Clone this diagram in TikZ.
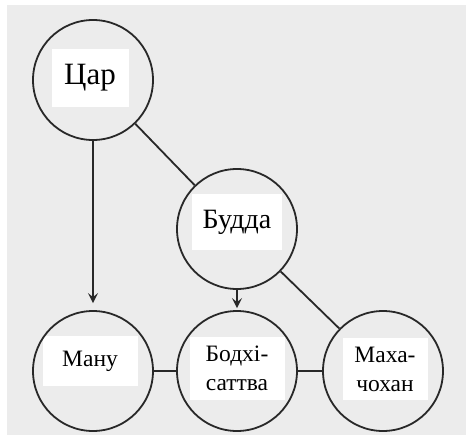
\documentclass[tikz,border=0pt]{standalone}
\usepackage{fontspec}
\setmainfont{Liberation Serif}
\usetikzlibrary{arrows.meta}
\definecolor{paper}{RGB}{236,236,236}
\definecolor{ink}{RGB}{40,40,40}

\tikzset{
	ring/.style={draw=ink,circle,line width=1.8pt,minimum size=120pt,inner sep=0pt},
	tag/.style={fill=white,inner sep=0pt,align=center},
	link/.style={draw=ink,line width=1.8pt},
	tip/.style={-{Stealth[length=10pt,width=10pt,inset=4pt]}},
}

\begin{document}
\begin{tikzpicture}[x=1pt,y=-1pt]
	\useasboundingbox (0,0) rectangle (466,437);
	\fill[paper] (7,5) rectangle (466,435);
	% white text boxes
	\node[tag,minimum width=77pt,minimum height=58pt,font=\fontsize{31}{36}\selectfont] (tsartext) at (90,78) {Цар};
	\node[tag,minimum width=90pt,minimum height=56pt,font=\fontsize{28}{34}\selectfont] (buddhatext) at (237,222) {Будда};
	\node[tag,minimum width=95pt,minimum height=50pt,font=\fontsize{23.5}{29}\selectfont] (manutext) at (90,361) {Ману};
	\node[tag,minimum width=95pt,minimum height=63pt,font=\fontsize{23.5}{29}\selectfont] (bodhitext) at (237,368) {Бодхі-\\саттва};
	\node[tag,minimum width=85pt,minimum height=62pt,font=\fontsize{23.5}{29}\selectfont] (mahatext) at (385,369) {Маха-\\чохан};
	% circles
	\node[ring] (tsar) at (93,80) {};
	\node[ring] (buddha) at (237,229) {};
	\node[ring] (manu) at (93,371) {};
	\node[ring] (bodhi) at (237,371) {};
	\node[ring] (maha) at (383,371) {};
	% connectors
	\draw[link,tip,shorten >=7pt] (tsar) -- (manu);
	\draw[link] (tsar) -- (buddha);
	\draw[link,tip,shorten >=2pt] (buddha) -- (bodhi);
	\draw[link] (buddha) -- (maha);
	\draw[link] (manu) -- (bodhi);
	\draw[link] (bodhi) -- (maha);
\end{tikzpicture}
\end{document}
